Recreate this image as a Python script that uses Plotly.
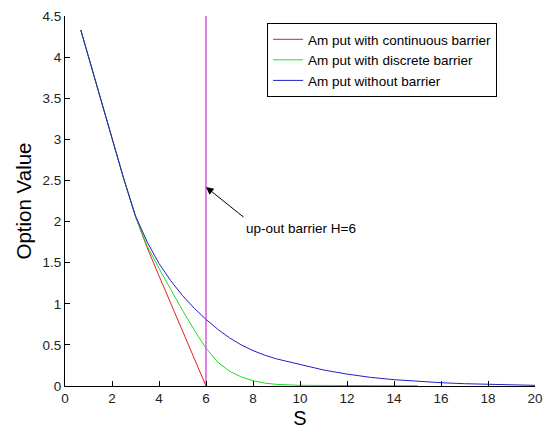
import plotly.graph_objects as go

# Data
S_cont = [0.67, 1.0, 1.5, 2.0, 2.5, 3.0, 3.2, 3.5, 4.0, 4.5, 5.0, 5.5, 6.0]
V_cont = [4.33, 4.0, 3.5, 3.0, 2.52, 2.06, 1.90, 1.68, 1.34, 1.0, 0.67, 0.335, 0.0]

S_disc = [0.67, 1.0, 1.5, 2.0, 2.5, 3.0, 3.5, 4.0, 4.5, 5.0, 5.5, 6.0, 6.5, 7.0, 7.5, 8.0, 8.5, 9.0, 10.0, 11.0, 12.0, 13.0, 14.0, 15.0]
V_disc = [4.33, 4.0, 3.5, 3.0, 2.52, 2.06, 1.70, 1.43, 1.17, 0.92, 0.68, 0.46, 0.29, 0.18, 0.11, 0.065, 0.035, 0.02, 0.008, 0.005, 0.004, 0.004, 0.004, 0.004]

S_none = [0.67, 1.0, 1.5, 2.0, 2.5, 3.0, 3.5, 4.0, 4.5, 5.0, 5.5, 6.0, 6.5, 7.0, 7.5, 8.0, 8.5, 9.0, 10.0, 11.0, 12.0, 13.0, 14.0, 15.0, 16.0, 17.0, 18.0, 19.0, 20.0]
V_none = [4.33, 4.0, 3.5, 3.0, 2.52, 2.07, 1.75, 1.49, 1.28, 1.10, 0.945, 0.81, 0.69, 0.585, 0.50, 0.43, 0.375, 0.33, 0.26, 0.195, 0.145, 0.105, 0.077, 0.056, 0.04, 0.028, 0.019, 0.012, 0.008]

barrier_S = [6, 6]
barrier_V = [0, 4.5]

x_ticks = [0, 2, 4, 6, 8, 10, 12, 14, 16, 18, 20]
y_ticks = [0, 0.5, 1, 1.5, 2, 2.5, 3, 3.5, 4, 4.5]
y_ticktext = ["0", "0.5", "1", "1.5", "2", "2.5", "3", "3.5", "4", "4.5"]

FONT = "Arial, Liberation Sans, Helvetica, sans-serif"

fig = go.Figure()
fig.add_trace(go.Scatter(x=S_cont, y=V_cont, mode="lines", name="Am put with continuous barrier",
                         line=dict(color="#e02020", width=1)))
fig.add_trace(go.Scatter(x=S_disc, y=V_disc, mode="lines", name="Am put with discrete barrier",
                         line=dict(color="#20dd20", width=1)))
fig.add_trace(go.Scatter(x=S_none, y=V_none, mode="lines", name="Am put without barrier",
                         line=dict(color="#2020c8", width=1)))
fig.add_trace(go.Scatter(x=barrier_S, y=barrier_V, mode="lines", showlegend=False,
                         line=dict(color="#d23fd2", width=1.3)))

fig.add_annotation(x=6.0, y=2.42, ax=7.66, ay=2.04, xref="x", yref="y", axref="x", ayref="y",
                   text="", showarrow=True, arrowhead=2, arrowsize=1.5, arrowwidth=1, arrowcolor="black")
fig.add_annotation(x=7.62, y=1.91, xref="x", yref="y", text="up-out barrier H=6", showarrow=False,
                   xanchor="left", yanchor="middle", font=dict(family=FONT, size=13.5, color="black"))

fig.update_layout(
    width=545, height=432,
    margin=dict(l=65, r=10, t=16, b=46),
    paper_bgcolor="white", plot_bgcolor="white",
    font=dict(family=FONT, size=13, color="#222"),
    legend=dict(x=0.43, y=0.981, xanchor="left", yanchor="top",
                bordercolor="black", borderwidth=1, bgcolor="white",
                font=dict(family=FONT, size=13.5, color="black"),
                tracegroupgap=0),
    showlegend=True,
)
fig.update_xaxes(range=[0, 20], tickvals=x_ticks, showgrid=False, zeroline=False, automargin=False,
                 showline=True, linecolor="black", linewidth=1,
                 ticks="inside", ticklen=5, tickcolor="black",
                 tickfont=dict(family=FONT, size=13.5, color="#222"),
                 title=dict(text="S", font=dict(family=FONT, size=20, color="black"), standoff=5))
fig.update_yaxes(range=[0, 4.5], tickvals=y_ticks, ticktext=y_ticktext, showgrid=False, zeroline=False,
                 automargin=False,
                 showline=True, linecolor="black", linewidth=1,
                 ticks="inside", ticklen=5, tickcolor="black",
                 tickfont=dict(family=FONT, size=13.5, color="#222"),
                 title=dict(text="Option Value", font=dict(family=FONT, size=20.5, color="black"), standoff=5))

fig.write_html("out.html")
